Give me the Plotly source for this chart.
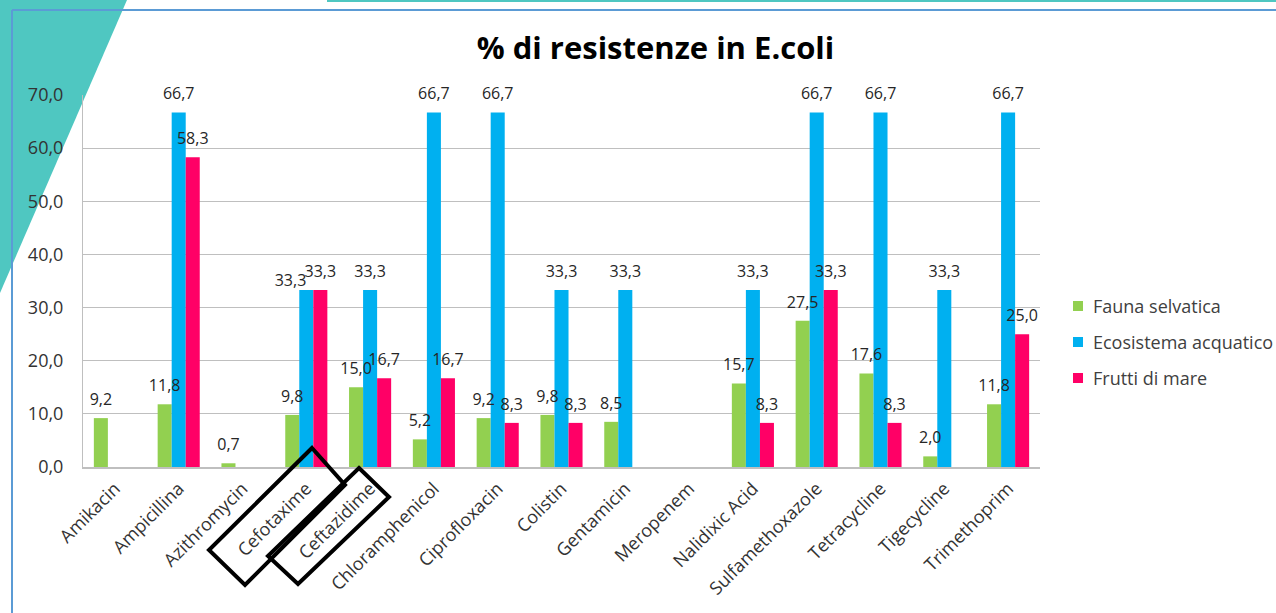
import plotly.graph_objects as go

categories = ["Amikacin", "Ampicillina", "Azithromycin", "Cefotaxime", "Ceftazidime",
              "Chloramphenicol", "Ciprofloxacin", "Colistin", "Gentamicin", "Meropenem",
              "Nalidixic Acid", "Sulfamethoxazole", "Tetracycline", "Tigecycline", "Trimethoprim"]

fauna_selvatica = [9.2, 11.8, 0.7, 9.8, 15.0, 5.2, 9.2, 9.8, 8.5, None,
                   15.7, 27.5, 17.6, 2.0, 11.8]
ecosistema_acquatico = [None, 66.7, None, 33.3, 33.3, 66.7, 66.7, 33.3, 33.3, None,
                        33.3, 66.7, 66.7, 33.3, 66.7]
frutti_di_mare = [None, 58.3, None, 33.3, 16.7, 16.7, 8.3, 8.3, None, None,
                  8.3, 33.3, 8.3, None, 25.0]

y_ticks = [0, 10, 20, 30, 40, 50, 60, 70]

W, H = 1276, 613
L, R, T, B = 83, 1040, 95, 467  # plot area in pixels

FONT = "Open Sans"
BARGAP = 0.34

series = [
    ("Fauna selvatica", fauna_selvatica, "#92D050"),
    ("Ecosistema acquatico", ecosistema_acquatico, "#00B0F0"),
    ("Frutti di mare", frutti_di_mare, "#FF0066"),
]

# value labels sit centred above their bar; the Cefotaxime label of the
# aquatic series is tucked to the left so it does not touch its neighbour
label_pos = {name: ["top center"] * len(categories) for name, _, _ in series}
label_gap = {name: [13] * len(categories) for name, _, _ in series}
k = categories.index("Cefotaxime")
label_pos["Ecosistema acquatico"][k] = "top left"
label_gap["Ecosistema acquatico"][k] = 0

fig = go.Figure()
for i, (name, vals, color) in enumerate(series):
    fig.add_trace(go.Bar(
        x=categories, y=vals, name=name,
        marker=dict(color=color, line=dict(width=0)),
        offsetgroup=str(i), showlegend=False,
    ))

# labels drawn after all bars so that they stay on top
for i, (name, vals, color) in enumerate(series):
    fig.add_trace(go.Scatter(
        x=categories, y=vals, mode="markers+text", showlegend=False,
        marker=dict(size=label_gap[name], opacity=0),
        text=[None if v is None else f"{v:.1f}".replace(".", ",") for v in vals],
        textposition=label_pos[name],
        textfont=dict(family=FONT, size=16, color="#262626"),
        offsetgroup=str(i), cliponaxis=False, hoverinfo="skip",
    ))


def px(x):
    return (x - L) / (R - L)


def py(y):
    return (B - y) / (B - T)


def path(points):
    return "M " + " L ".join(f"{px(x)},{py(y)}" for x, y in points) + " Z"


shapes = [
    # teal corner decoration
    dict(type="path", xref="paper", yref="paper", layer="below",
         path=path([(0, 0), (127, 0), (0, 293)]),
         fillcolor="#4FC7C1", line=dict(width=0)),
    # teal line along the top edge
    dict(type="line", xref="paper", yref="paper", layer="above",
         x0=px(327), x1=px(W), y0=py(0.5), y1=py(0.5),
         line=dict(color="#4FC7C1", width=3)),
    # blue frame
    dict(type="line", xref="paper", yref="paper", layer="above",
         x0=px(12), x1=px(W), y0=py(10), y1=py(10),
         line=dict(color="#5B9BD5", width=2)),
    dict(type="line", xref="paper", yref="paper", layer="above",
         x0=px(12), x1=px(12), y0=py(10), y1=py(H),
         line=dict(color="#5B9BD5", width=2)),
    # boxes highlighting two category labels
    dict(type="path", xref="paper", yref="paper", layer="above",
         path=path([(312, 448), (345, 485), (245, 585), (209, 550)]),
         line=dict(color="black", width=4), fillcolor="rgba(0,0,0,0)"),
    dict(type="path", xref="paper", yref="paper", layer="above",
         path=path([(359, 468), (389, 497), (298, 584), (268, 556)]),
         line=dict(color="black", width=4), fillcolor="rgba(0,0,0,0)"),
]

# legend: colour swatch + series name, one row per series
annotations = []
LEG_X, LEG_Y0, LEG_DY = 1073, 306, 36
for j, (name, _, color) in enumerate(series):
    yc = LEG_Y0 + j * LEG_DY
    shapes.append(dict(type="rect", xref="paper", yref="paper", layer="above",
                       x0=px(LEG_X), x1=px(LEG_X + 10), y0=py(yc + 5), y1=py(yc - 5),
                       fillcolor=color, line=dict(width=0)))
    annotations.append(dict(text=name, xref="paper", yref="paper",
                            x=px(LEG_X + 18), y=py(yc), xanchor="left", yanchor="middle",
                            showarrow=False,
                            font=dict(family=FONT, size=18, color="#404040")))

fig.update_layout(
    width=W, height=H,
    margin=dict(l=L, r=W - R, t=T, b=H - B, pad=0),
    paper_bgcolor="white", plot_bgcolor="rgba(0,0,0,0)",
    separators=",.",
    barmode="group", bargap=BARGAP, bargroupgap=0,
    scattermode="group", scattergap=BARGAP,
    title=dict(text="<b>% di resistenze in E.coli</b>", xref="container",
               x=655.5 / W, xanchor="center", y=1 - 48 / H, yanchor="middle",
               font=dict(family=FONT, size=31, color="#000000")),
    font=dict(family=FONT, color="#404040"),
    shapes=shapes,
    annotations=annotations,
    showlegend=False,
)

fig.update_xaxes(
    tickangle=-45, tickfont=dict(family=FONT, size=18, color="#333333"),
    showline=True, linecolor="#BFBFBF", linewidth=2, showgrid=False,
    ticks="", automargin=False, ticklabelstandoff=2,
)
fig.update_yaxes(
    range=[0, 70], tickvals=y_ticks, tickformat=".1f",
    tickfont=dict(family=FONT, size=18, color="#333333"),
    showline=True, linecolor="#BFBFBF", linewidth=1,
    showgrid=True, gridcolor="#BFBFBF", gridwidth=1,
    zeroline=False, ticks="", ticklen=0, automargin=False,
    ticklabelstandoff=15,
)

fig.write_html("out.html")
